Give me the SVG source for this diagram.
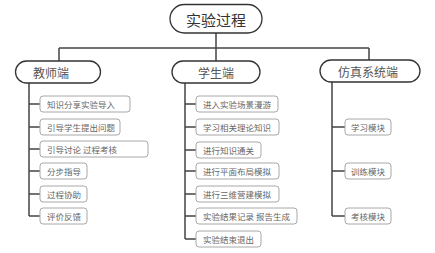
<svg xmlns="http://www.w3.org/2000/svg" width="435" height="253" viewBox="0 0 435 253">
<style>
.pill{fill:#fff;stroke:#333;stroke-width:1.3}
.box{fill:#fff;stroke:#a8a8a8;stroke-width:1}
.ln{fill:none;stroke:#444;stroke-width:1.5}
.pt{font-family:"Noto Sans CJK SC","Noto Sans",sans-serif;fill:#555;dominant-baseline:central}
.bt{font-family:"Noto Sans CJK SC","Noto Sans",sans-serif;font-size:8.5px;fill:#666;dominant-baseline:central}
</style>
<rect width="435" height="253" fill="#fff"/>
<g id="connectors" class="ln">
<path d="M216 33V48M59 48H369M59 48V61M216 48V61M369 48V60"/>
<path d="M29 83V216M29 104H40M29 127H40M29 149H40M29 171H40M29 194H40M29 216H40"/>
<path d="M185 83V239M185 104H196M185 127H196M185 150H196M185 171H196M185 194H196M185 216H196M185 239H196"/>
<path d="M332 82V216M332 127H345M332 171H345M332 216H345"/>
</g>
<g id="root"><rect class="pill" x="170" y="4.5" width="92" height="28.5" rx="14.25"/><text class="pt" x="216" y="19" font-size="15" fill="#333" style="fill:#333" text-anchor="middle">实验过程</text></g>
<g id="teacher"><rect class="pill" x="15.5" y="61" width="85" height="22" rx="11"/><text class="pt" x="33" y="72" font-size="12">教师端</text></g>
<g id="student"><rect class="pill" x="172" y="61" width="88" height="22" rx="11"/><text class="pt" x="216" y="72" font-size="12" text-anchor="middle">学生端</text></g>
<g id="sim"><rect class="pill" x="320" y="60" width="100" height="22" rx="11"/><text class="pt" x="368" y="71" font-size="12" text-anchor="middle">仿真系统端</text></g>
<g id="t1"><rect class="box" x="40" y="96" width="90" height="16" rx="3"/><text class="bt" x="47" y="104">知识分享实验导入</text></g>
<g id="t2"><rect class="box" x="40" y="119" width="80" height="16" rx="3"/><text class="bt" x="47" y="127">引导学生提出问题</text></g>
<g id="t3"><rect class="box" x="40" y="141" width="108" height="16" rx="3"/><text class="bt" x="47" y="149">引导讨论 过程考核</text></g>
<g id="t4"><rect class="box" x="40" y="163" width="47" height="16" rx="3"/><text class="bt" x="47" y="171">分步指导</text></g>
<g id="t5"><rect class="box" x="40" y="186" width="47" height="16" rx="3"/><text class="bt" x="47" y="194">过程协助</text></g>
<g id="t6"><rect class="box" x="40" y="208" width="47" height="16" rx="3"/><text class="bt" x="47" y="216">评价反馈</text></g>
<g id="s1"><rect class="box" x="196" y="96" width="82" height="16" rx="3"/><text class="bt" x="203" y="104">进入实验场景漫游</text></g>
<g id="s2"><rect class="box" x="196" y="119" width="83" height="16" rx="3"/><text class="bt" x="203" y="127">学习相关理论知识</text></g>
<g id="s3"><rect class="box" x="196" y="142" width="65" height="16" rx="3"/><text class="bt" x="203" y="150">进行知识通关</text></g>
<g id="s4"><rect class="box" x="196" y="163" width="83" height="16" rx="3"/><text class="bt" x="203" y="171">进行平面布局模拟</text></g>
<g id="s5"><rect class="box" x="196" y="186" width="83" height="16" rx="3"/><text class="bt" x="203" y="194">进行三维营建模拟</text></g>
<g id="s6"><rect class="box" x="196" y="208" width="101" height="16" rx="3"/><text class="bt" x="203" y="216">实验结果记录 报告生成</text></g>
<g id="s7"><rect class="box" x="196" y="231" width="65" height="16" rx="3"/><text class="bt" x="203" y="239">实验结束退出</text></g>
<g id="m1"><rect class="box" x="345" y="119" width="46" height="16" rx="3"/><text class="bt" x="368" y="127" text-anchor="middle">学习模块</text></g>
<g id="m2"><rect class="box" x="345" y="163" width="46" height="16" rx="3"/><text class="bt" x="368" y="171" text-anchor="middle">训练模块</text></g>
<g id="m3"><rect class="box" x="345" y="208" width="46" height="16" rx="3"/><text class="bt" x="368" y="216" text-anchor="middle">考核模块</text></g>
</svg>
